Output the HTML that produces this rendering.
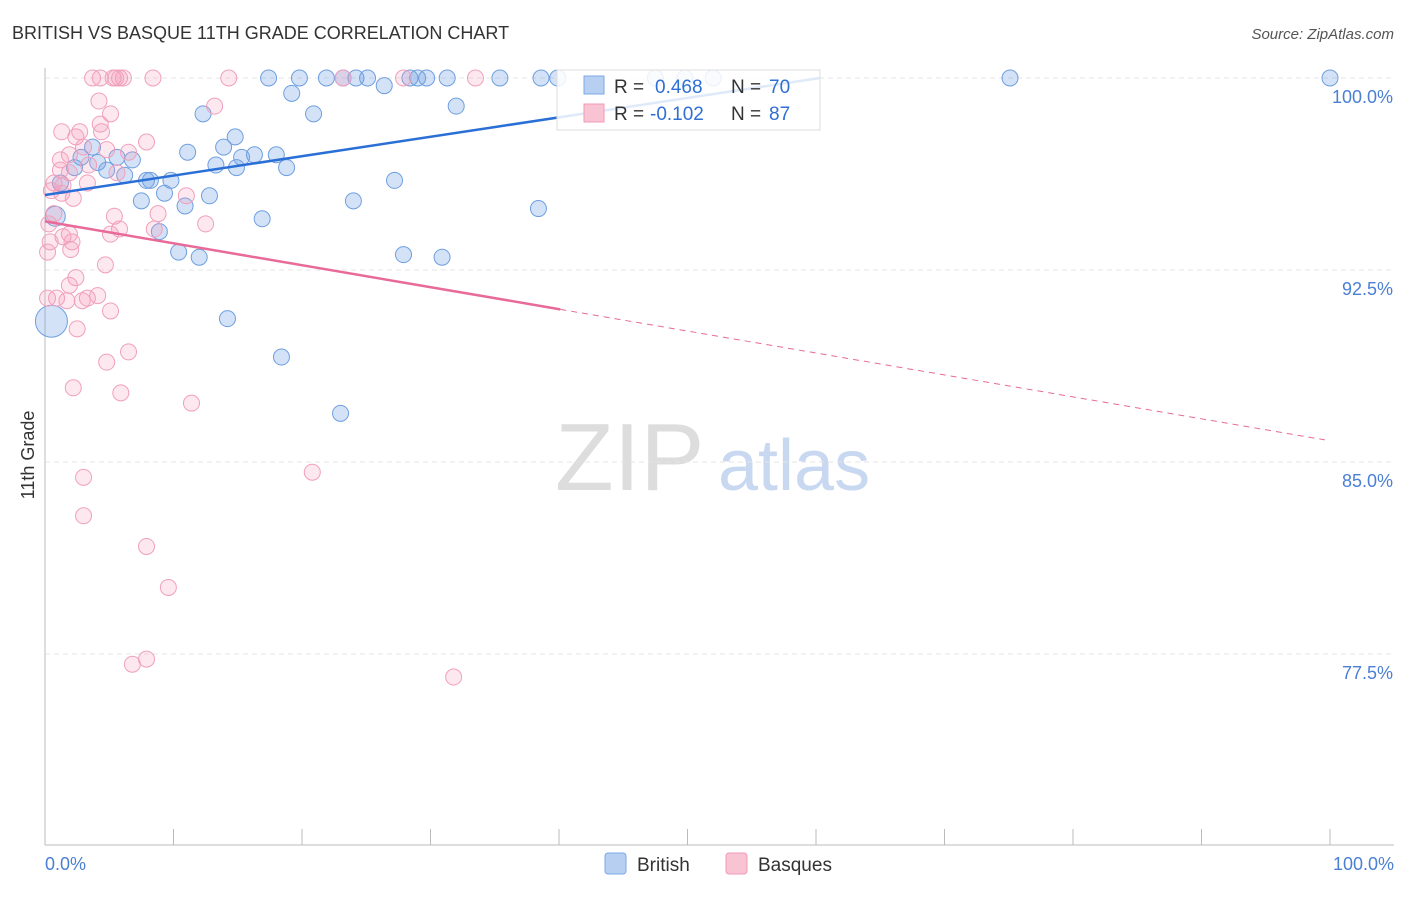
<!DOCTYPE html>
<html><head><meta charset="utf-8"><style>
body{margin:0;background:#fff;font-family:"Liberation Sans",sans-serif;}
svg text{font-family:"Liberation Sans",sans-serif;}
</style></head><body>
<svg id="chart" width="1406" height="892" xmlns="http://www.w3.org/2000/svg">
<text x="12" y="39" font-size="18" fill="#333">BRITISH VS BASQUE 11TH GRADE CORRELATION CHART</text>
<text x="1394" y="39" font-size="15" fill="#555" font-style="italic" text-anchor="end">Source: ZipAtlas.com</text>
<text x="555" y="490" font-size="96" fill="#ddd" font-family="Liberation Serif">ZIP</text>
<text x="718" y="490" font-size="72" fill="#c8d8f0">atlas</text>
<g id="grid"></g>
<g id="axes"></g>
<g id="pts"></g>
<g id="trends"></g>
<text transform="translate(34,455) rotate(-90)" font-size="18" fill="#333" text-anchor="middle">11th Grade</text>
<text x="45" y="870" font-size="18" fill="#4a7fd4">0.0%</text>
<text x="1394" y="870" font-size="18" fill="#4a7fd4" text-anchor="end">100.0%</text>
<g>
<rect x="557" y="70" width="263" height="60" fill="#fff" fill-opacity="0.85" stroke="#ddd"/>
<rect x="584" y="76" width="20" height="18" fill="#b7d0f2" stroke="#7aa8e6"/>
<text x="614" y="93" font-size="19" fill="#333">R = </text><text x="655" y="93" font-size="19" fill="#2f6fd4">0.468</text>
<text x="731" y="93" font-size="19" fill="#333">N = </text><text x="769" y="93" font-size="19" fill="#2f6fd4">70</text>
<rect x="584" y="104" width="20" height="18" fill="#f8c4d4" stroke="#f09ab6"/>
<text x="614" y="120" font-size="19" fill="#333">R = </text><text x="650" y="120" font-size="19" fill="#2f6fd4">-0.102</text>
<text x="731" y="120" font-size="19" fill="#333">N = </text><text x="769" y="120" font-size="19" fill="#2f6fd4">87</text>
</g>
<g>
<rect x="605" y="853" width="21" height="21" rx="3" fill="#b7d0f2" stroke="#7aa8e6"/>
<text x="637" y="871" font-size="19" fill="#333">British</text>
<rect x="726" y="853" width="21" height="21" rx="3" fill="#f8c4d4" stroke="#f09ab6"/>
<text x="758" y="871" font-size="19" fill="#333">Basques</text>
</g>
</svg>
<script>
const yTicks=[100,92.5,85,77.5];
const yTickLabels=["100.0%","92.5%","85.0%","77.5%"];
const xTicks=[0,10,20,30,40,50,60,70,80,90,100];
const britishX=[17.4,19.8,21.9,23.2,24.2,25.1,26.4,28.4,29.0,29.7,31.3,35.4,38.6,39.9,47.5,49.8,52.0,75.1,100,19.2,32.0,12.3,20.9,14.8,13.9,11.1,16.3,18.0,15.3,6.8,2.8,3.7,5.6,4.1,2.3,4.8,13.3,14.9,18.8,6.2,8.2,7.9,9.8,1.2,27.2,9.3,12.8,7.5,10.9,24.0,38.4,16.9,8.9,10.4,12.0,27.9,30.9,14.2,18.4,23.0,0.5,0.8];
const britishY=[100,100,100,100,100,100,99.7,100,100,100,100,100,100,100,100,100,100,100,100,99.4,98.9,98.6,98.6,97.7,97.3,97.1,97.0,97.0,96.9,96.8,96.9,97.3,96.9,96.7,96.5,96.4,96.6,96.5,96.5,96.2,96.0,96.0,96.0,95.9,96.0,95.5,95.4,95.2,95.0,95.2,94.9,94.5,94.0,93.2,93.0,93.1,93.0,90.6,89.1,86.9,90.5,94.6];
const britishR=[8,8,8,8,8,8,8,8,8,8,8,8,8,8,8,8,8,8,8,8,8,8,8,8,8,8,8,8,8,8,8,8,8,8,8,8,8,8,8,8,8,8,8,8,8,8,8,8,8,8,8,8,8,8,8,8,8,8,8,8,16,10];
const basquesX=[3.7,4.3,5.3,5.5,5.8,6.1,8.4,14.3,23.2,27.9,33.5,13.2,4.2,5.1,1.3,2.4,2.7,4.4,7.9,4.3,6.5,1.9,3.0,4.8,1.2,3.4,1.2,1.9,5.6,0.7,1.4,3.3,2.2,0.5,1.3,11.0,5.4,8.8,0.7,0.3,12.5,5.8,5.1,8.5,1.9,1.4,2.1,0.4,0.2,2.0,4.7,2.4,1.9,4.1,3.3,2.9,0.9,1.7,0.2,5.1,2.5,6.5,4.8,2.2,5.9,11.4,3.0,20.8,3.0,7.9,9.6,7.9,6.8,31.8];
const basquesY=[100,100,100,100,100,100,100,100,100,100,100,98.9,99.1,98.6,97.9,97.7,97.9,97.9,97.5,98.2,97.1,97.0,97.3,97.2,96.8,96.6,96.4,96.3,96.3,95.9,95.8,95.9,95.3,95.6,95.5,95.4,94.6,94.7,94.7,94.3,94.3,94.1,93.9,94.1,93.9,93.8,93.6,93.6,93.2,93.3,92.7,92.2,91.9,91.5,91.4,91.3,91.4,91.3,91.4,90.9,90.2,89.3,88.9,87.9,87.7,87.3,84.4,84.6,82.9,81.7,80.1,77.3,77.1,76.6];
const britishTrend=[95.43,0.0758];
const basquesTrend=[94.4,-0.0857];
const NS="http://www.w3.org/2000/svg";
function xs(v){return 45+v*12.85;}
function ys(v){return 78+(100-v)*25.6;}
function mk(tag,attrs,parent){const e=document.createElementNS(NS,tag);for(const k in attrs)e.setAttribute(k,attrs[k]);document.getElementById(parent).appendChild(e);return e;}
yTicks.forEach((t,i)=>{
 const g=mk('line',{x1:45,x2:1394,y1:ys(t),y2:ys(t),stroke:'#e4e4e4','stroke-dasharray':'5,4'},'grid');
 
 
 const l=mk('text',{x:1393,y:ys(t)+25,'font-size':18,fill:'#4a7fd4','text-anchor':'end'},'grid');
 l.textContent=yTickLabels[i];
 
 
});
const ax=mk('line',{x1:45,x2:45,y1:68,y2:845,stroke:'#bbb'},'axes');


const bx=mk('line',{x1:45,x2:1394,y1:845,y2:845,stroke:'#bbb'},'axes');


xTicks.forEach(t=>{
 const e=mk('line',{x1:xs(t),x2:xs(t),y1:829,y2:845,stroke:'#bbb'},'axes');
 
 
});
britishX.forEach((x,i)=>{
 const c=mk('circle',{cx:xs(x),cy:ys(britishY[i]),r:britishR[i],fill:'rgba(110,160,230,0.3)',stroke:'#6f9fe0','stroke-width':1},'pts');
 
 
});
basquesX.forEach((x,i)=>{
 const c=mk('circle',{cx:xs(x),cy:ys(basquesY[i]),r:8,fill:'rgba(245,150,180,0.22)',stroke:'#f0a0bc','stroke-width':1},'pts');
 
 
});
function tv(tr,x){return tr[0]+tr[1]*x;}
const bt=mk('line',{x1:xs(0),y1:ys(tv(britishTrend,0)),x2:xs(60.3),y2:ys(tv(britishTrend,60.3)),stroke:'#2a6fd6','stroke-width':2.5},'trends');


const pt=mk('line',{x1:xs(0),y1:ys(tv(basquesTrend,0)),x2:xs(40.1),y2:ys(tv(basquesTrend,40.1)),stroke:'#e86a98','stroke-width':2.5},'trends');


const pd=mk('line',{x1:xs(40.1),y1:ys(tv(basquesTrend,40.1)),x2:xs(99.6),y2:ys(tv(basquesTrend,99.6)),stroke:'#e86a98','stroke-width':1,'stroke-dasharray':'6,5'},'trends');


</script>
</body></html>
